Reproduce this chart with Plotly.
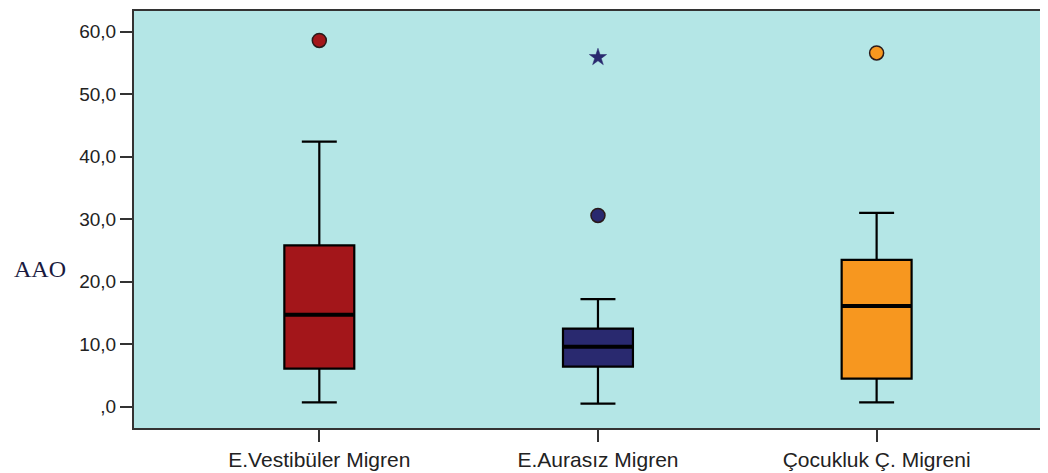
import plotly.graph_objects as go

categories = ["E.Vestibüler Migren", "E.Aurasız Migren", "Çocukluk Ç. Migreni"]
lower_whisker = [0.7, 0.5, 0.7]
q1_vals = [6.1, 6.4, 4.5]
medians = [14.7, 9.6, 16.1]
q3_vals = [25.8, 12.5, 23.5]
upper_whisker = [42.4, 17.2, 31.0]
outlier_circles = [[58.6], [30.6], [56.6]]
outlier_stars = [[], [55.9], []]
fill_colors = ["#a3161a", "#29296f", "#f7971f"]
ytick_vals = [0, 10, 20, 30, 40, 50, 60]
ytick_text = [",0", "10,0", "20,0", "30,0", "40,0", "50,0", "60,0"]

positions = list(range(len(categories)))
fig = go.Figure()

for i, cat in enumerate(categories):
    fig.add_trace(go.Box(
        x=[positions[i]], q1=[q1_vals[i]], median=[medians[i]], q3=[q3_vals[i]],
        lowerfence=[lower_whisker[i]], upperfence=[upper_whisker[i]],
        width=0.251, whiskerwidth=0.5, boxpoints=False,
        fillcolor=fill_colors[i], line=dict(color="black", width=2.2),
        name=cat, showlegend=False, hoverinfo="skip",
    ))
    fig.add_trace(go.Scatter(
        x=[positions[i]], y=[medians[i]], mode="markers",
        marker=dict(symbol="line-ew", size=49.5, line=dict(color="black", width=4)),
        showlegend=False, hoverinfo="skip",
    ))
    if outlier_circles[i]:
        fig.add_trace(go.Scatter(
            x=[positions[i]] * len(outlier_circles[i]), y=outlier_circles[i], mode="markers",
            marker=dict(symbol="circle", size=14, color=fill_colors[i],
                        line=dict(color="#2a1a1a", width=1.5)),
            showlegend=False, hoverinfo="skip",
        ))
    if outlier_stars[i]:
        fig.add_trace(go.Scatter(
            x=[positions[i]] * len(outlier_stars[i]), y=outlier_stars[i], mode="markers",
            marker=dict(symbol="star", size=13, color=fill_colors[i],
                        line=dict(color=fill_colors[i], width=0.5)),
            showlegend=False, hoverinfo="skip",
        ))

fig.update_layout(
    width=1040, height=465,
    margin=dict(l=126, r=0, t=3, b=45),
    paper_bgcolor="white", plot_bgcolor="#b4e6e6",
    font=dict(family="Liberation Sans, Arial", size=19, color="#222222"),
    annotations=[dict(
        text="AAO", xref="paper", yref="y", x=-0.1025, y=22.0,
        xanchor="center", yanchor="middle", showarrow=False,
        font=dict(family="Liberation Serif, Times New Roman", size=24, color="#1a1a40"),
    )],
)
fig.update_xaxes(
    range=[-0.665, 2.615], tickvals=positions, ticktext=categories,
    tickfont=dict(size=21),
    showline=True, mirror=True, linecolor="#333333", linewidth=2,
    ticks="outside", ticklen=12, tickwidth=2, tickcolor="#333333",
    showgrid=False, zeroline=False,
)
fig.update_yaxes(
    range=[-3.41, 63.31], tickvals=ytick_vals, ticktext=ytick_text,
    showline=True, mirror=False, linecolor="#333333", linewidth=2,
    ticks="outside", ticklen=12, tickwidth=2, tickcolor="#333333",
    showgrid=False, zeroline=False,
)

fig.write_html("out.html")
